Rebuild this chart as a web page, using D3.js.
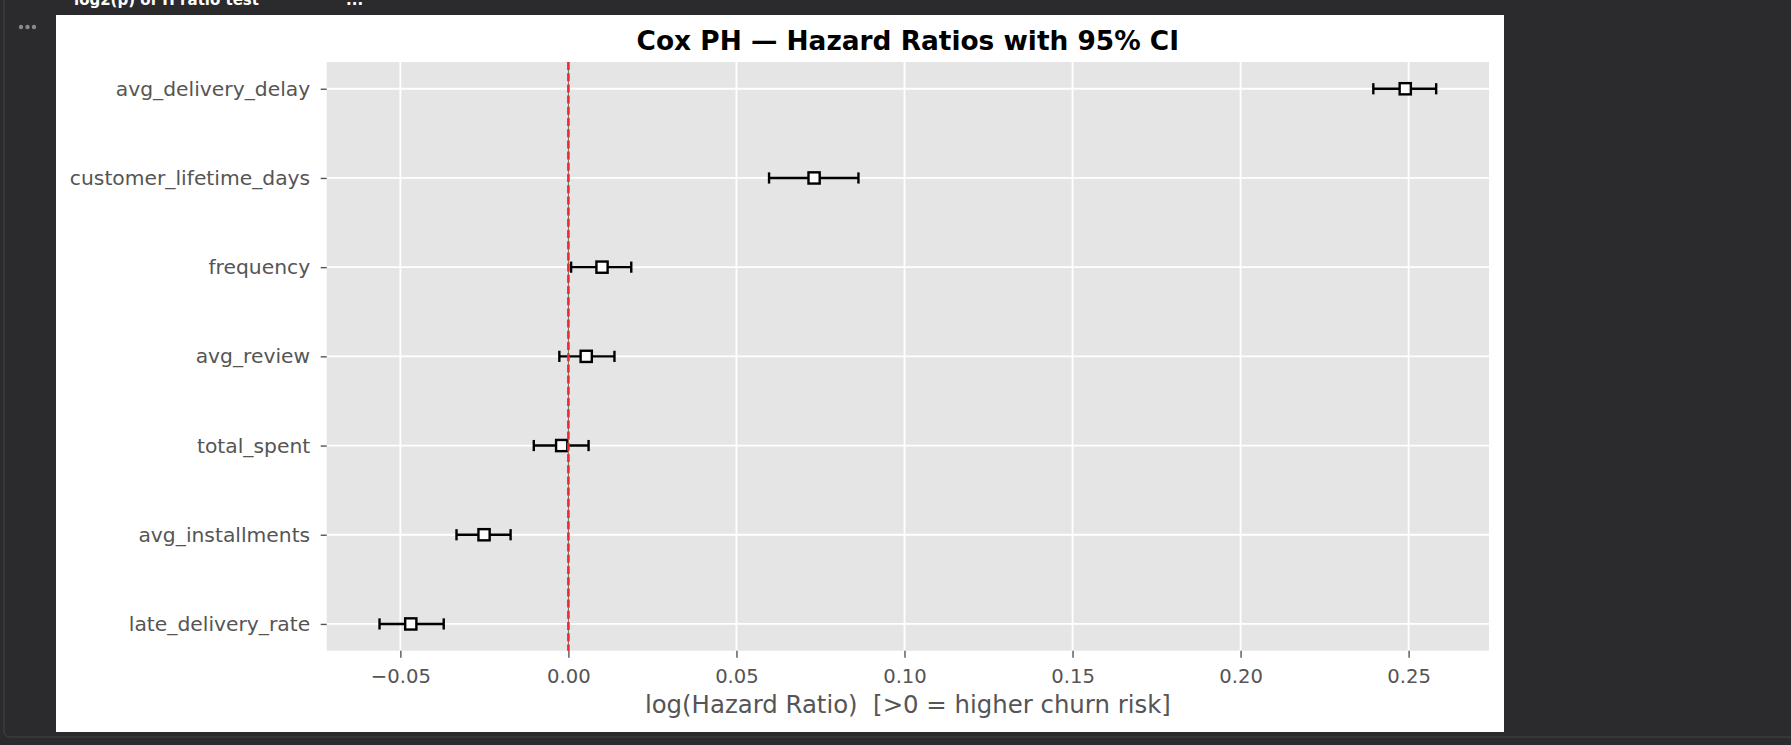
<!DOCTYPE html>
<html>
<head>
<meta charset="utf-8">
<script src="https://cdn.jsdelivr.net/npm/d3@7"></script>
<style>
body { margin: 0; background: #2b2b2d; overflow: hidden; }
svg text { font-family: "DejaVu Sans", sans-serif; }
</style>
</head>
<body>
<div id="chart"></div>
<script>
// Cox PH coefficients (log hazard ratio) with 95% CI, top row first
var features = ["avg_delivery_delay", "customer_lifetime_days", "frequency", "avg_review",
	"total_spent", "avg_installments", "late_delivery_rate"]
var coef = [0.2490, 0.0731, 0.0100, 0.0053, -0.0020, -0.0251, -0.0469]
var ciLower = [0.2395, 0.0597, 0.0008, -0.0027, -0.0103, -0.0333, -0.0562]
var ciUpper = [0.2582, 0.0863, 0.0187, 0.0137, 0.0060, -0.0172, -0.0371]
var xTicks = [-0.05, 0, 0.05, 0.10, 0.15, 0.20, 0.25]
var xTickLabels = ["\u22120.05", "0.00", "0.05", "0.10", "0.15", "0.20", "0.25"]

var W = 1791, H = 745
var plot = {left: 326.7, right: 1489, top: 62, bottom: 650.7}

function drawFrame(svg) {
	svg.append('rect').attr('x', 4).attr('y', -12).attr('width', W + 20).attr('height', 749)
		.attr('rx', 6).attr('fill', 'none').attr('stroke', '#444448').attr('stroke-width', 1)
	svg.append('text').attr('x', 74).attr('y', 5).attr('fill', '#fff')
		.attr('font-weight', 'bold').attr('font-size', 15).text('log2(p) of H ratio test')
	svg.append('text').attr('x', 346).attr('y', 5).attr('fill', '#fff')
		.attr('font-weight', 'bold').attr('font-size', 15).text('...')
	svg.selectAll('circle.dot').data([21, 27.5, 34]).enter().append('circle')
		.attr('class', 'dot').attr('cx', function(d){return d}).attr('cy', 27).attr('r', 2.2)
		.attr('fill', '#8a8a8e')
	svg.append('rect').attr('x', 56).attr('y', 15).attr('width', 1504 - 56).attr('height', 732 - 15)
		.attr('fill', '#fff')
}

function drawChart() {
	var svg = d3.select('#chart').append('svg').attr('width', W).attr('height', H)
	drawFrame(svg)

	var lo = d3.min(ciLower), hi = d3.max(ciUpper), pad = (hi - lo) * 0.05
	var x = d3.scaleLinear().domain([lo - pad, hi + pad]).range([plot.left, plot.right])
	var y = d3.scaleLinear().domain([-0.3, features.length - 1 + 0.3]).range([plot.top, plot.bottom])

	svg.append('rect').attr('x', plot.left).attr('y', plot.top)
		.attr('width', plot.right - plot.left).attr('height', plot.bottom - plot.top)
		.attr('fill', '#e5e5e5')

	// grid
	svg.selectAll('line.vgrid').data(xTicks).enter().append('line').attr('class', 'vgrid')
		.attr('x1', function(d){return x(d)}).attr('x2', function(d){return x(d)})
		.attr('y1', plot.top).attr('y2', plot.bottom)
		.attr('stroke', '#fff').attr('stroke-width', 1.8)
	svg.selectAll('line.hgrid').data(features).enter().append('line').attr('class', 'hgrid')
		.attr('x1', plot.left).attr('x2', plot.right)
		.attr('y1', function(d, i){return y(i)}).attr('y2', function(d, i){return y(i)})
		.attr('stroke', '#fff').attr('stroke-width', 1.8)

	// axes
	var xAxis = svg.append('g').attr('transform', 'translate(0,' + plot.bottom + ')')
		.call(d3.axisBottom(x).tickValues(xTicks).tickSize(7).tickPadding(11)
			.tickFormat(function(d, i){return xTickLabels[i]}))
	xAxis.select('.domain').remove()
	xAxis.selectAll('line').attr('stroke', '#555').attr('stroke-width', 1.4)
	xAxis.selectAll('text').attr('fill', '#555').attr('font-size', 19.6)
		.attr('font-family', '"DejaVu Sans", sans-serif')

	var yAxis = svg.append('g').attr('transform', 'translate(' + plot.left + ',0)')
		.call(d3.axisLeft(y).tickValues(d3.range(features.length)).tickSize(6).tickPadding(10.5)
			.tickFormat(function(d){return features[d]}))
	yAxis.select('.domain').remove()
	yAxis.selectAll('line').attr('stroke', '#555').attr('stroke-width', 1.4)
	yAxis.selectAll('text').attr('fill', '#555').attr('font-size', 20.3)
		.attr('font-family', '"DejaVu Sans", sans-serif')

	// error bars
	var rows = svg.selectAll('g.row').data(features).enter().append('g').attr('class', 'row')
	rows.append('line')
		.attr('x1', function(d, i){return x(ciLower[i])}).attr('x2', function(d, i){return x(ciUpper[i])})
		.attr('y1', function(d, i){return y(i)}).attr('y2', function(d, i){return y(i)})
		.attr('stroke', '#000').attr('stroke-width', 2.4)
	rows.append('line')
		.attr('x1', function(d, i){return x(ciLower[i])}).attr('x2', function(d, i){return x(ciLower[i])})
		.attr('y1', function(d, i){return y(i) - 5.6}).attr('y2', function(d, i){return y(i) + 5.6})
		.attr('stroke', '#000').attr('stroke-width', 2.4)
	rows.append('line')
		.attr('x1', function(d, i){return x(ciUpper[i])}).attr('x2', function(d, i){return x(ciUpper[i])})
		.attr('y1', function(d, i){return y(i) - 5.6}).attr('y2', function(d, i){return y(i) + 5.6})
		.attr('stroke', '#000').attr('stroke-width', 2.4)
	rows.append('rect')
		.attr('x', function(d, i){return x(coef[i]) - 5.6}).attr('y', function(d, i){return y(i) - 5.6})
		.attr('width', 11.2).attr('height', 11.2)
		.attr('fill', '#fff').attr('stroke', '#000').attr('stroke-width', 2.4)

	// reference line at 0
	svg.append('line').attr('x1', x(0)).attr('x2', x(0)).attr('y1', plot.top).attr('y2', plot.bottom)
		.attr('stroke', '#777').attr('stroke-width', 1.2)
	svg.append('line').attr('x1', x(0)).attr('x2', x(0)).attr('y1', plot.top).attr('y2', plot.bottom)
		.attr('stroke', '#ee2a30').attr('stroke-width', 2.6).attr('stroke-dasharray', '8,3.2')

	// title and label
	var cx = (plot.left + plot.right) / 2
	svg.append('text').attr('x', cx).attr('y', 50).attr('text-anchor', 'middle')
		.attr('font-weight', 'bold').attr('font-size', 26.4).attr('fill', '#000')
		.text('Cox PH \u2014 Hazard Ratios with 95% CI')
	svg.append('text').attr('x', cx).attr('y', 713).attr('text-anchor', 'middle')
		.attr('font-size', 24.4).attr('fill', '#555').attr('xml:space', 'preserve')
		.style('white-space', 'pre')
		.text('log(Hazard Ratio)  [>0 = higher churn risk]')
}

drawChart()
</script>
</body>
</html>
